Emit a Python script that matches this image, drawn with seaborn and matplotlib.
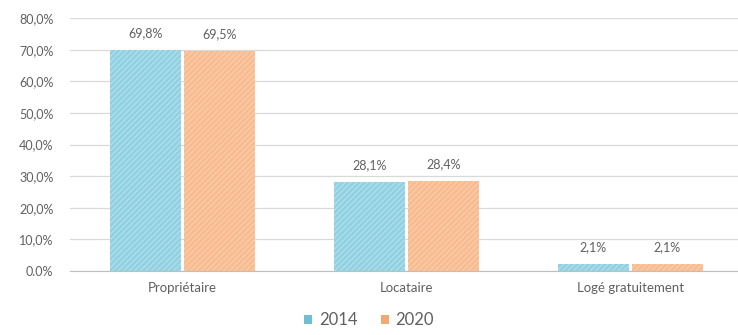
import matplotlib
matplotlib.use("Agg")
import matplotlib.pyplot as plt
import seaborn as sns
import pandas as pd
from matplotlib.patches import Patch

categories = ["Propriétaire", "Locataire", "Logé gratuitement"]
years = ["2014", "2020"]
values_2014 = [69.8, 28.1, 2.1]
values_2020 = [69.5, 28.4, 2.1]
value_labels_2014 = ["69,8%", "28,1%", "2,1%"]
value_labels_2020 = ["69,5%", "28,4%", "2,1%"]
ytick_vals = [0, 10, 20, 30, 40, 50, 60, 70, 80]
ytick_labels = ["0.0%", "10,0%", "20,0%", "30,0%", "40,0%", "50,0%", "60,0%", "70,0%", "80,0%"]

df = pd.DataFrame({
    "cat": categories * 2,
    "year": [years[0]] * 3 + [years[1]] * 3,
    "val": values_2014 + values_2020,
})

sns.set_style("white")
plt.rcParams["font.family"] = ["Lato", "DejaVu Sans"]
plt.rcParams["hatch.linewidth"] = 0.6

fills = {"2014": "#92d1e2", "2020": "#f8bc90"}
hatch_cols = {"2014": "#bde4ef", "2020": "#fbd5b8"}
legend_cols = {"2014": "#6fbfd3", "2020": "#f2a873"}
txt = "#606060"

fig = plt.figure(figsize=(7.38, 3.35), dpi=100)
ax = fig.add_axes([0.095, 0.191, 0.905, 0.755])

sns.barplot(data=df, x="cat", y="val", hue="year", order=categories, hue_order=years,
            palette=fills, width=0.66, ax=ax, legend=False, saturation=1)

gap = 0.007
for bars, yr, labs in zip(ax.containers, years, [value_labels_2014, value_labels_2020]):
    for p, lab in zip(bars, labs):
        p.set_x(p.get_x() + gap)
        p.set_width(p.get_width() - 2 * gap)
        p.set_hatch("//////")
        p.set_edgecolor(hatch_cols[yr])
        p.set_linewidth(0)
        ax.text(p.get_x() + p.get_width() / 2, p.get_height() + 3.6, lab,
                ha="center", va="bottom", fontsize=9, color=txt)

ax.set_ylim(0, 80)
ax.set_xlim(-0.5, 2.48)
ax.set_yticks(ytick_vals)
ax.set_yticklabels(ytick_labels, color=txt, fontsize=9)
ax.tick_params(axis="x", colors=txt, labelsize=9.5, length=0, pad=8)
ax.tick_params(axis="y", length=0, pad=12)
ax.yaxis.grid(True, color="#d9d9d9", linewidth=0.9)
ax.set_axisbelow(True)
for s in ["top", "right", "left"]:
    ax.spines[s].set_visible(False)
ax.spines["bottom"].set_color("#bfbfbf")
ax.set_xlabel("")
ax.set_ylabel("")

handles = [Patch(facecolor=legend_cols[y], edgecolor="none", label=y) for y in years]
fig.legend(handles=handles, loc="lower center", bbox_to_anchor=(0.5, -0.025), ncol=2,
           frameon=False, fontsize=12, handlelength=0.5, handleheight=0.5,
           handletextpad=0.4, columnspacing=1.4, labelcolor=txt)

fig.savefig("out.png", dpi=100)
